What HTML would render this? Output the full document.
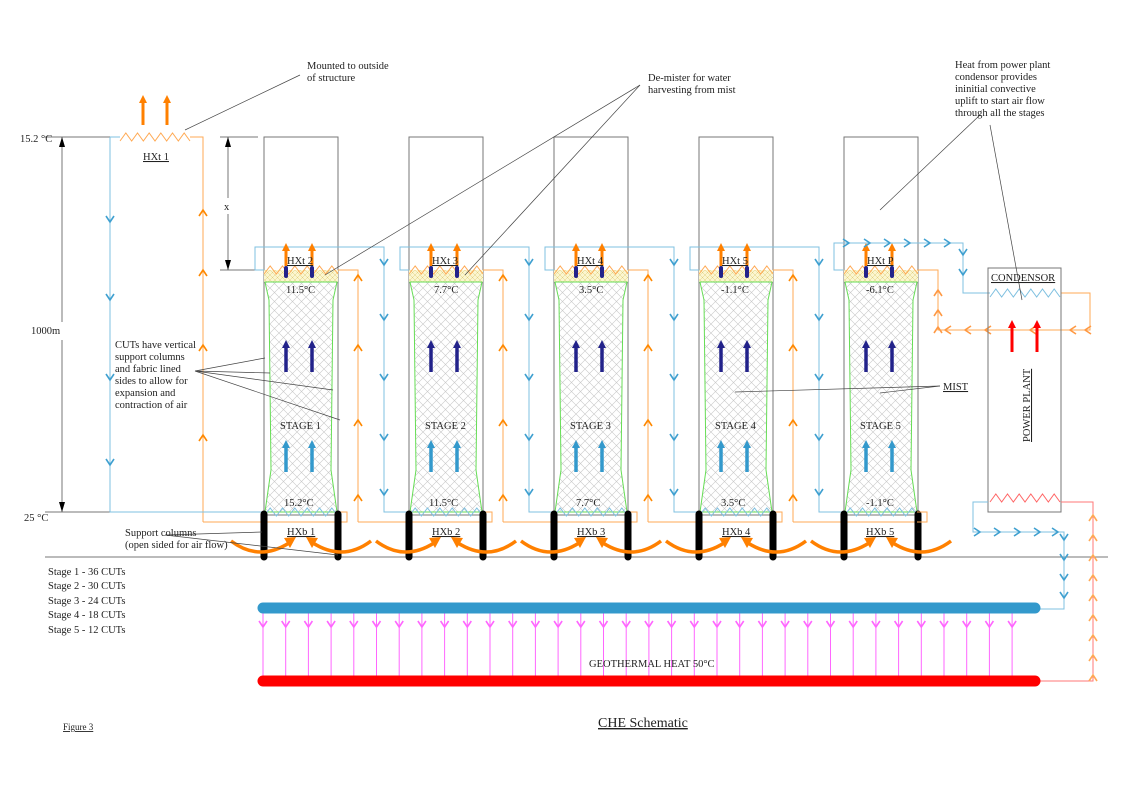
<!DOCTYPE html>
<html><head><meta charset="utf-8">
<style>
html,body{margin:0;padding:0;background:#fff;}
svg{display:block;font-family:"Liberation Serif",serif;}
text{font-size:10.5px;fill:#222;}
</style></head>
<body>
<svg id="s" width="1123" height="794" viewBox="0 0 1123 794" xmlns="http://www.w3.org/2000/svg">
<defs>
<pattern id="mesh" width="9" height="9" patternUnits="userSpaceOnUse">
<path d="M0 0L9 9M9 0L0 9" stroke="#c8c8c8" stroke-width="0.6"/>
</pattern>
<pattern id="ymesh" width="5" height="5" patternUnits="userSpaceOnUse">
<rect width="5" height="5" fill="#fbf6d0"/>
<path d="M0 0L5 5M5 0L0 5" stroke="#e0d080" stroke-width="0.5"/>
</pattern>
</defs>
<g id="g"></g>
<g id="t">
<text x="307" y="69">Mounted to outside</text>
<text x="307" y="81">of structure</text>
<text x="648" y="81">De-mister for water</text>
<text x="648" y="93">harvesting from mist</text>
<text x="955" y="68">Heat from power plant</text>
<text x="955" y="80">condensor provides</text>
<text x="955" y="92">ininitial convective</text>
<text x="955" y="104">uplift to start air flow</text>
<text x="955" y="116">through all the stages</text>
<text x="115" y="348">CUTs have vertical</text>
<text x="115" y="360">support columns</text>
<text x="115" y="372">and fabric lined</text>
<text x="115" y="384">sides to allow for</text>
<text x="115" y="396">expansion and</text>
<text x="115" y="408">contraction of air</text>
<text x="943" y="390" text-decoration="underline">MIST</text>
<text x="125" y="536">Support columns</text>
<text x="125" y="548">(open sided for air flow)</text>
<text x="48" y="575">Stage 1 - 36 CUTs</text>
<text x="48" y="589">Stage 2 - 30 CUTs</text>
<text x="48" y="604">Stage 3 - 24 CUTs</text>
<text x="48" y="618">Stage 4 - 18 CUTs</text>
<text x="48" y="633">Stage 5 - 12 CUTs</text>
<text x="20" y="142">15.2 °C</text>
<text x="24" y="521">25 °C</text>
<text x="31" y="334">1000m</text>
<text x="224" y="210">x</text>
<text x="143" y="160" text-decoration="underline">HXt 1</text>
<text x="589" y="667">GEOTHERMAL HEAT 50°C</text>
<text x="63" y="730" style="font-size:9px" text-decoration="underline">Figure 3</text>
<text x="598" y="727" style="font-size:14px" text-decoration="underline">CHE Schematic</text>
<text x="991" y="281" text-decoration="underline">CONDENSOR</text>
<text x="0" y="0" transform="translate(1030,442) rotate(-90)" text-decoration="underline">POWER PLANT</text>
<text x="287" y="264" text-decoration="underline">HXt 2</text>
<text x="432" y="264" text-decoration="underline">HXt 3</text>
<text x="577" y="264" text-decoration="underline">HXt 4</text>
<text x="722" y="264" text-decoration="underline">HXt 5</text>
<text x="867" y="264" text-decoration="underline">HXt P</text>
<text x="286" y="293">11.5°C</text>
<text x="434" y="293">7.7°C</text>
<text x="579" y="293">3.5°C</text>
<text x="721" y="293">-1.1°C</text>
<text x="866" y="293">-6.1°C</text>
<text x="284" y="506">15.2°C</text>
<text x="429" y="506">11.5°C</text>
<text x="576" y="506">7.7°C</text>
<text x="721" y="506">3.5°C</text>
<text x="866" y="506">-1.1°C</text>
<text x="280" y="429">STAGE 1</text>
<text x="425" y="429">STAGE 2</text>
<text x="570" y="429">STAGE 3</text>
<text x="715" y="429">STAGE 4</text>
<text x="860" y="429">STAGE 5</text>
<text x="287" y="535" text-decoration="underline">HXb 1</text>
<text x="432" y="535" text-decoration="underline">HXb 2</text>
<text x="577" y="535" text-decoration="underline">HXb 3</text>
<text x="722" y="535" text-decoration="underline">HXb 4</text>
<text x="866" y="535" text-decoration="underline">HXb 5</text>
</g>
</svg>
<script>
var g=document.getElementById('g'),h='';
var BL='#7fc0e0',OR='#ffaa55',GR='#777';
function L(p,c,w){h+='<polyline points="'+p+'" fill="none" stroke="'+c+'" stroke-width="'+(w||1)+'"/>';}
function zig(x1,x2,y,c,n){var p=[],d=(x2-x1)/n;for(var i=0;i<=n;i++){p.push((x1+i*d)+','+(y+(i%2?-4:4)));}L(p.join(' '),c);}
function chev(x,y,dir,c){var a=4,b=6;var p;
 if(dir=='d')p=(x-a)+','+(y-b)+' '+x+','+y+' '+(x+a)+','+(y-b);
 if(dir=='u')p=(x-a)+','+(y+b)+' '+x+','+y+' '+(x+a)+','+(y+b);
 if(dir=='r')p=(x-b)+','+(y-a)+' '+x+','+y+' '+(x-b)+','+(y+a);
 if(dir=='l')p=(x+b)+','+(y-a)+' '+x+','+y+' '+(x+b)+','+(y+a);
 L(p,c,1.6);}
function arr(x,y1,y2,c,w){h+='<line x1="'+x+'" y1="'+y1+'" x2="'+x+'" y2="'+(y2+6)+'" stroke="'+c+'" stroke-width="'+w+'"/><polygon points="'+(x-4)+','+(y2+8)+' '+x+','+y2+' '+(x+4)+','+(y2+8)+'" fill="'+c+'"/>';}
L('45,557 1108,557',GR);
L('45,137 110,137',GR);L('45,512 110,512',GR);L('62,137 62,322',GR);L('62,340 62,512',GR);
h+='<polygon points="59,147 62,137 65,147" fill="#000"/><polygon points="59,502 62,512 65,502" fill="#000"/>';
L('220,137 258,137',GR);L('220,270 258,270',GR);L('228,137 228,198',GR);L('228,214 228,270',GR);
h+='<polygon points="225,147 228,137 231,147" fill="#000"/><polygon points="225,260 228,270 231,260" fill="#000"/>';
zig(120,190,137,OR,12);L('110,137 120,137',BL);L('190,137 203,137 203,522',OR);
L('110,137 110,512 264,512',BL);
[222,300,380,465].forEach(function(y){chev(110,y,'d','#3fa0d0');});
[210,270,345,435].forEach(function(y){chev(203,y,'u','#ff8800');});
arr(143,125,95,'#ff8000',3);arr(167,125,95,'#ff8000',3);
L('203,522 347,522 347,512 338,512',OR);
for(var i=0;i<5;i++){var x=264+145*i;
 h+='<rect x="'+x+'" y="137" width="74" height="378" fill="none" stroke="'+GR+'"/>';
 h+='<rect x="'+x+'" y="270" width="74" height="12" fill="url(#ymesh)"/>';
 var gp=(x+1)+',282 '+(x+5)+',300 '+(x+7)+',470 '+(x+1)+',512 '+(x+73)+',512 '+(x+67)+',470 '+(x+69)+',300 '+(x+73)+',282';
 h+='<polygon points="'+gp+'" fill="url(#mesh)" stroke="#66dd55" stroke-width="1"/>';
 zig(x,x+74,270,OR,12);zig(x,x+74,512,BL,12);
 var rx=x+120;
 if(i<4){
  L(x+','+270+' '+(x-9)+',270 '+(x-9)+',247 '+rx+',247 '+rx+',512 '+(rx+25)+',512',BL);
  [265,320,380,440,495].forEach(function(y){chev(rx,y,'d','#3fa0d0');});
  var ox=x+94;
  L((x+74)+',270 '+ox+',270 '+ox+',522',OR);
  [275,345,420,495].forEach(function(y){chev(ox,y,'u','#ff8800');});
 }
 if(i>0){L((x-51)+',522 '+(x+83)+',522 '+(x+83)+',512 '+(x+74)+',512',OR);}
 arr(x+22,266,243,'#ff8000',3);arr(x+48,266,243,'#ff8000',3);
 h+='<rect x="'+(x+20)+'" y="266" width="4" height="12" rx="2" fill="#22228a"/><rect x="'+(x+46)+'" y="266" width="4" height="12" rx="2" fill="#22228a"/>';
 arr(x+22,372,340,'#22228a',3.5);arr(x+48,372,340,'#22228a',3.5);
 arr(x+22,472,440,'#3399cc',3.5);arr(x+48,472,440,'#3399cc',3.5);
 h+='<line x1="'+x+'" y1="514" x2="'+x+'" y2="557" stroke="#000" stroke-width="7" stroke-linecap="round"/>';
 h+='<line x1="'+(x+74)+'" y1="514" x2="'+(x+74)+'" y2="557" stroke="#000" stroke-width="7" stroke-linecap="round"/>';
 h+='<path d="M'+(x-33)+' 541 Q'+(x-5)+' 562 '+(x+25)+' 543" fill="none" stroke="#ff8000" stroke-width="3.5"/>';
 h+='<polygon points="'+(x+32)+',537 '+(x+20)+',538 '+(x+26)+',548" fill="#ff8000"/>';
 h+='<path d="M'+(x+107)+' 541 Q'+(x+79)+' 562 '+(x+49)+' 543" fill="none" stroke="#ff8000" stroke-width="3.5"/>';
 h+='<polygon points="'+(x+42)+',537 '+(x+54)+',538 '+(x+48)+',548" fill="#ff8000"/>';
}
L('843,270 834,270 834,243 963,243 963,293 990,293',BL);
[849,870,890,910,930,950].forEach(function(xx){chev(xx,243,'r','#3fa0d0');});
[255,275].forEach(function(y){chev(963,y,'d','#3fa0d0');});
L('917,270 938,270 938,330 1090,330 1090,293 1061,293',OR);
[985,965,945,1070,1085,1030].forEach(function(xx){chev(xx,330,'l','#ff9944');});
[290,310,327].forEach(function(y){chev(938,y,'u','#ff9944');});
L('917,522 927,522 927,512 917,512',OR);
h+='<rect x="988" y="268" width="73" height="244" fill="none" stroke="'+GR+'"/>';
zig(990,1060,293,BL,12);zig(990,1060,498,'#ff6666',12);
arr(1012,352,320,'#ff0000',3);arr(1037,352,320,'#ff0000',3);
L('988,502 973,502 973,532 1064,532 1064,609 1040,609',BL);
[980,1000,1020,1040,1058].forEach(function(xx){chev(xx,532,'r','#3fa0d0');});
[540,560,580,598].forEach(function(y){chev(1064,y,'d','#3fa0d0');});
L('1061,502 1093,502 1093,681 1040,681','#ff7777');
[515,535,555,575,595,615,635,655,675].forEach(function(y){chev(1093,y,'u','#ffaa55');});
for(var k=0;k<34;k++){var mx=263+k*22.7;L(mx+',608 '+mx+',681','#ff66ff');chev(mx,627,'d','#ff66ff');}
h+='<line x1="263" y1="608" x2="1035" y2="608" stroke="#3399cc" stroke-width="11" stroke-linecap="round"/>';
h+='<line x1="263" y1="681" x2="1035" y2="681" stroke="#ff0000" stroke-width="11" stroke-linecap="round"/>';
var ld=[[185,130,300,75],[640,85,325,275],[640,85,465,275],[980,115,880,210],[990,125,1022,300],
[195,371,265,358],[195,371,270,373],[195,371,333,390],[195,371,340,420],
[940,386,735,392],[940,386,880,393],[165,535,262,532],[165,535,338,555]];
ld.forEach(function(a){h+='<line x1="'+a[0]+'" y1="'+a[1]+'" x2="'+a[2]+'" y2="'+a[3]+'" stroke="#444" stroke-width="0.7"/>';});
g.innerHTML=h;
</script>
</body></html>
